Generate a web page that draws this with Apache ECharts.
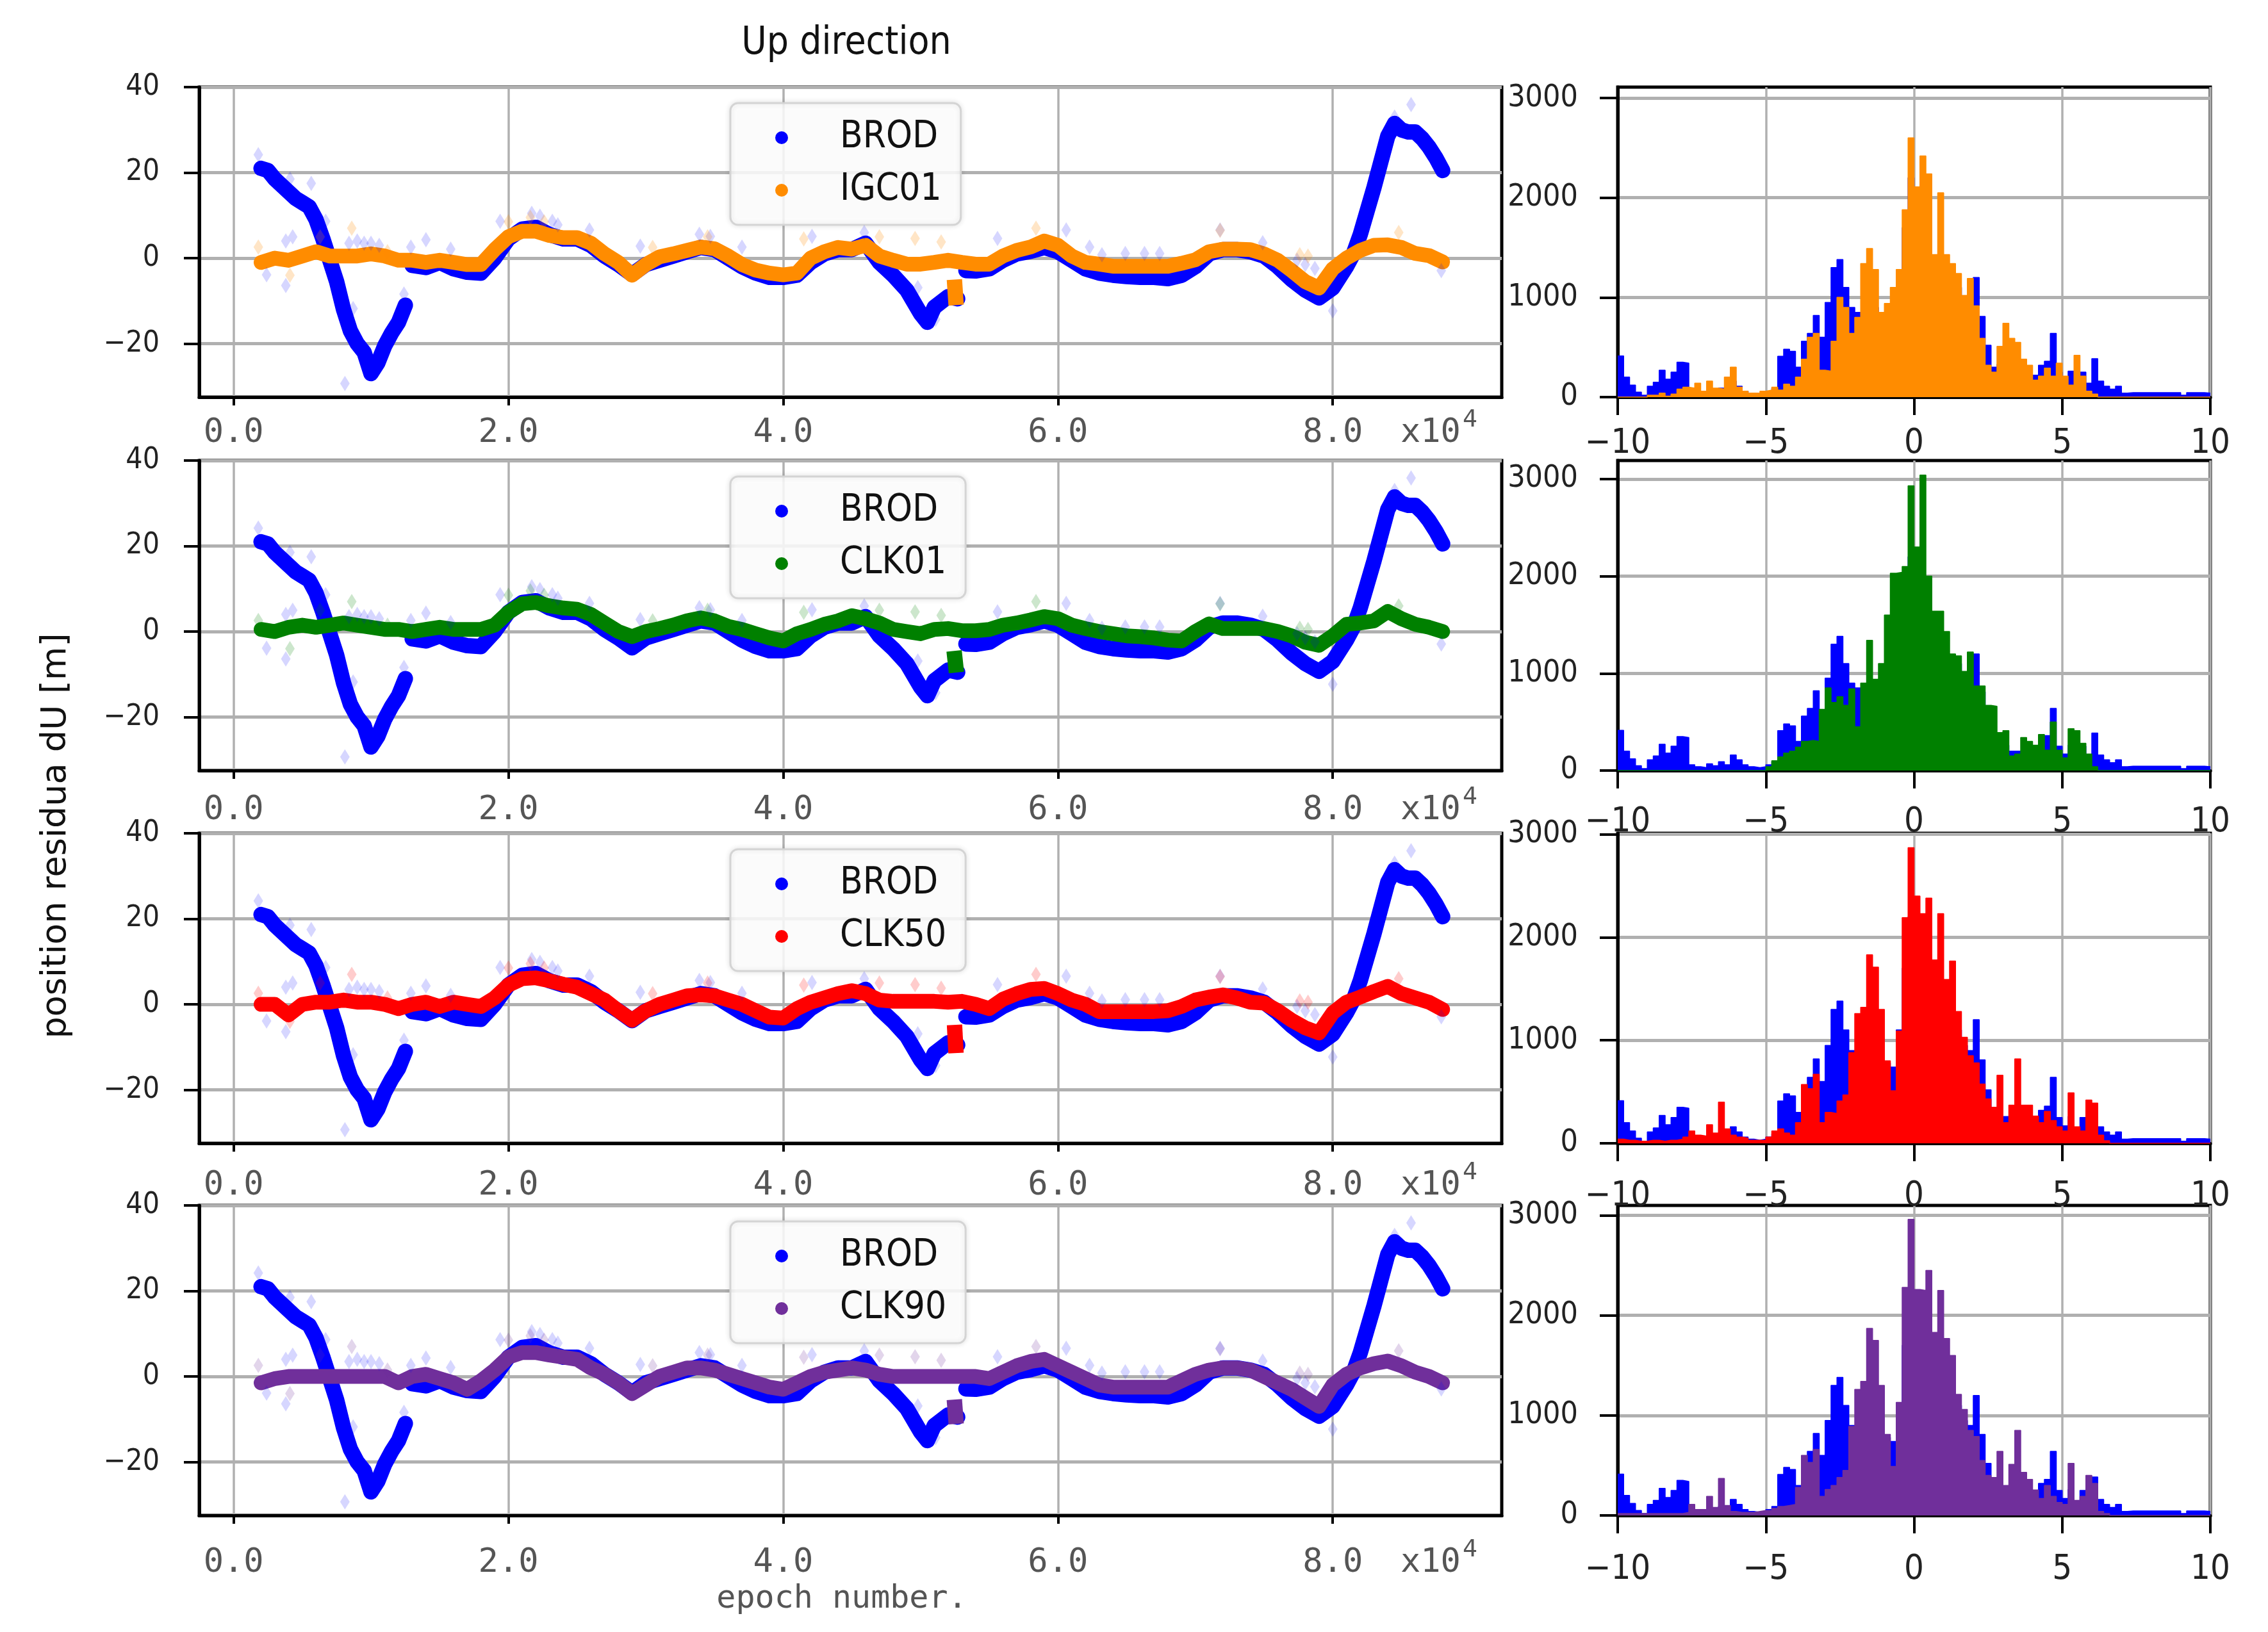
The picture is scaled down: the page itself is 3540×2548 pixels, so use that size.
<!DOCTYPE html>
<html>
<head>
<meta charset="utf-8">
<title>Up direction</title>
<script src="https://cdn.jsdelivr.net/npm/echarts@6/dist/echarts.min.js"></script>
<style>
html, body { margin: 0; padding: 0; background: #fff; }
#main { width: 3540px; height: 2548px; }
</style>
</head>
<body>
<div id="main"></div>
<script>
// BROD residuals (shared by all four rows), null = gap between segments
var brodEpochs = [
  2000, 2500, 3000, 3500, 4000, 4500, 5000, 5500, 6000, 6500,
  7000, 7500, 8000, 8500, 9000, 9500, 10000, 10500, 11000, 11500,
  12000, 12500, 12800, 13000, 14000, 15000, 16000, 17000, 18000, 19000,
  20000, 21000, 22000, 23000, 24000, 25000, 26000, 27000, 28000, 29000,
  30000, 31000, 32000, 33000, 34000, 35000, 36000, 37000, 38000, 39000,
  40000, 41000, 42000, 43000, 44000, 45000, 46000, 47000, 48000, 49000,
  50000, 50500, 51000, 52000, 52700, 53000, 53300, 54000, 55000, 56000,
  57000, 58000, 59000, 60000, 61000, 62000, 63000, 64000, 65000, 66000,
  67000, 68000, 69000, 70000, 71000, 72000, 73000, 74000, 75000, 76000,
  77000, 78000, 79000, 80000, 81000, 81500, 82000, 82500, 83000, 83500,
  84000, 84500, 85000, 85500, 86000, 86500, 87000, 87500, 88000
];
var brodValues = [
  21, 20.5, 18.5, 17, 15.5, 14, 13, 12, 9, 4.5,
  -0.5, -5.5, -12, -17, -20, -22, -27, -24.5, -20.5, -17.5,
  -15, -11, null, -1.7, -2.2, -1, -2.5, -3.3, -3.5, 0,
  4.5, 6.8, 7.2, 5.5, 4.5, 4.5, 3, 0.5, -1.5, -3.8,
  -1.5, -0.5, 0.5, 1.5, 2.5, 2, 0, -2, -3.5, -4.5,
  -4.5, -4, -1, 1, 2, 2, 3.5, -1, -4, -7.5,
  -13, -15, -11.5, -9, -9.5, null, -2.9, -3, -2.5, -0.5,
  1, 1.6, 2.5, 1.5, -0.5, -2.5, -3.5, -4, -4.3, -4.5,
  -4.5, -4.8, -4, -2, 1, 2, 2, 1.5, 0.5, -2,
  -5, -7.5, -9.3, -7, -2, 1, 5.5, 11, 16.5, 22.5,
  28.5, 31.5, 30, 29.5, 29.5, 28, 26, 23.5, 20.5
];

// epochs of the four comparison solutions
var epochs = [
  2000, 3000, 4000, 5000, 6000, 7000, 8000, 9000, 10000, 11000,
  12000, 13000, 14000, 15000, 16000, 17000, 18000, 19000, 20000, 21000,
  22000, 23000, 24000, 25000, 26000, 27000, 28000, 29000, 30000, 31000,
  32000, 33000, 34000, 35000, 36000, 37000, 38000, 39000, 40000, 41000,
  42000, 43000, 44000, 45000, 46000, 47000, 48000, 49000, 50000, 51000,
  52000, 53000, 54000, 55000, 56000, 57000, 58000, 59000, 60000, 61000,
  62000, 63000, 64000, 65000, 66000, 67000, 68000, 69000, 70000, 71000,
  72000, 73000, 74000, 75000, 76000, 77000, 78000, 79000, 80000, 81000,
  82000, 83000, 84000, 85000, 86000, 87000, 88000
];
var igc01 = [
  -1, 0, -0.5, 0.5, 1.5, 0.5, 0.5, 0.5, 1, 0.5,
  -0.5, -0.5, -1, -0.5, -1, -1.5, -1.5, 2, 5, 6.3,
  6.3, 5.3, 4.8, 4.8, 3.5, 1, -1, -4, -1.5, 0.3,
  1, 1.8, 2.6, 2.2, 0.5, -1.5, -2.8, -3.5, -3.9, -3.5,
  0, 1.5, 2.5, 2.1, 3, 0.5, -0.5, -1.4, -1.4, -1,
  -0.5, -1, -1.4, -1.4, 0.5, 1.8, 2.6, 4, 3, 0.5,
  -1, -1.4, -1.9, -1.9, -1.9, -1.9, -1.9, -1.2, -0.4, 1.5,
  2.1, 2.1, 2, 1, -0.5, -2.9, -5.5, -7, -2.5, 0,
  1.8, 3, 3.1, 2.5, 1.1, 0.6, -0.9
];
var clk01 = [
  0.5, 0, 1, 1.5, 1, 1.5, 2, 1.5, 1, 0.5,
  0.5, 0, 0.5, 1, 0.5, 0.5, 0.5, 1.5, 4.5, 6.5,
  6.8, 6, 5.5, 5.2, 4, 2, 0, -1.2, 0, 0.7,
  1.5, 2.5, 3.2, 2.5, 1.2, 0.5, -0.5, -1.5, -2.2, -0.5,
  0.5, 1.7, 2.5, 3.7, 3, 2, 0.5, 0, -0.5, 0.5,
  0.7, 0.2, 0.2, 0.5, 1.5, 2, 2.7, 3.5, 3, 1.5,
  0.7, 0, -0.5, -1, -1.2, -1.5, -2, -2.2, 0, 1.8,
  0.7, 0.7, 0.7, 0.7, 0, -1, -2.5, -3.2, -1, 1.7,
  2, 2.5, 4.7, 3, 1.7, 1, 0
];
var clk50 = [
  0, 0, -2.5, 0, 0.5, 0.5, 1, 0.5, 0.5, 0,
  -1, 0, 0.5, -0.5, 0.5, 0, -0.5, 1.5, 4.5, 6,
  6.2, 5.5, 4.7, 4, 2.5, 1, -1.5, -3.7, -1.5, 0,
  1, 2, 2.2, 2, 1, 0, -1.5, -3, -3.2, -1,
  0.5, 1.5, 2.5, 3.2, 2.5, 1, 0.7, 0.7, 0.7, 0.7,
  0.5, 0.7, 0, -1, 1.2, 2.5, 3.5, 3.7, 2.5, 1,
  0, -1.7, -1.7, -1.7, -1.7, -1.7, -1.5, -0.5, 1, 1.7,
  2.2, 1.5, 0.5, 0.3, -1.5, -3.7, -5.5, -6.7, -2, 0.5,
  1.7, 3, 4.2, 2.5, 1.5, 0.5, -1.2
];
var clk90 = [
  -1.5, -0.5, 0, 0, 0, 0, 0, 0, 0, 0,
  -1.5, 0, 0.5, -0.5, -1.5, -3, -1, 1.5, 4.5, 5.6,
  5.6, 5, 4.5, 4, 2, 0.5, -1.5, -4, -2, 0,
  1, 2, 2, 1.5, 0.5, -0.5, -1.5, -2.5, -3, -1.5,
  0, 1, 1.5, 2, 1.5, 0.5, 0, 0, 0, 0,
  0, 0, 0, -0.5, 1, 2.5, 3.5, 4, 2.5, 1,
  -0.5, -2, -2.5, -2.5, -2.5, -2.5, -2.5, -1, 0.5, 1.5,
  2, 2, 1.5, 0, -1.5, -3, -5, -7, -2, 0.5,
  2, 3, 3.6, 2.5, 1, 0, -1.5
];

// short offset cluster near epoch 5.25e4
var blockEpochs = [52500, 52550];
var igc01Block = [-6.8, -9.2];
var clk01Block = [-6.3, -7.8];
var clk50Block = [-6.6, -9.6];
var clk90Block = [-7.2, -9.3];

// faint outlier markers
var brodOutlierEpochs = [1800, 2400, 3800, 4100, 5650, 6700, 8100, 8700, 3800, 4300, 8400, 9000, 9500, 10000, 10600,
  12400, 12900, 14000, 15800, 19400, 21700, 22300, 23200, 23600, 25900, 29600, 33900, 34700, 37000, 42100, 45900,
  49800, 51100, 55600, 60600, 62300, 63200, 64900, 66300, 67400, 71800, 74900, 77400, 78000, 78700, 80000, 84500, 85700, 87900];
var brodOutlierValues = [24.2, -3.9, -6.4, 18.5, 17.5, 8.6, -29.3, -11.8, 4, 5, 3.5, 4, 3.5, 3.5, 3,
  -8.4, 2.6, 4.3, 2.1, 8.6, 10.5, 9.8, 8.6, 7.8, 6.6, 2.8, 5.6, 5.1, 2.6, 5.1, 6,
  -6.9, -14.3, 4.6, 6.6, 2.6, 0.8, 1.1, 1.1, 1.1, 6.6, 3.6, -0.5, -1.5, -2.4, -12.3, 33, 35.9, -2.9];
var otherOutlierEpochs = [1800, 4100, 6300, 8600, 11200, 20000, 21600, 22600, 30500, 34500, 41500, 47000, 49600, 51500, 58400, 71800, 77600, 78200, 84800];
var otherOutlierValues = [2.6, -4, 5, 7, 1.5, 8.5, 9.5, 8.5, 2.5, 5, 4.5, 5, 4.6, 3.8, 7, 6.5, 0.8, 0.5, 6];

// histogram counts, bins of 0.2 m from -10 to 10
var binStart = -10, binWidth = 0.2;
var brodHist = [
  413, 200, 120, 50, 20, 110, 150, 270, 180, 250,
  350, 340, 60, 40, 30, 70, 50, 90, 60, 160,
  110, 60, 40, 30, 40, 60, 90, 410, 480, 460,
  300, 560, 640, 820, 600, 950, 1300, 1380, 1100, 900,
  850, 800, 850, 900, 800, 780, 740, 1100, 1700, 2200,
  1900, 1900, 1700, 1300, 1300, 1200, 1150, 1100, 950, 900,
  1200, 810, 520, 300, 330, 260, 200, 200, 210, 190,
  220, 320, 360, 640, 250, 170, 260, 120, 250, 140,
  385, 160, 110, 80, 110, 40, 45, 45, 45, 45,
  45, 45, 45, 45, 45, 20, 45, 45, 45, 40
];
var igc01Hist = [
  0, 0, 0, 0, 0, 20, 20, 40, 10, 30,
  80, 100, 90, 140, 60, 160, 90, 80, 200, 300,
  100, 60, 40, 40, 60, 70, 100, 70, 130, 110,
  200, 380, 600, 640, 270, 260, 560, 1000, 900, 640,
  800, 1340, 1490, 1280, 850, 940, 1100, 1280, 1880, 2600,
  2110, 2420, 2240, 1430, 2050, 1430, 1340, 1240, 1020, 1190,
  915, 590, 320, 250, 510, 740, 590, 550, 380, 320,
  170, 210, 290, 210, 340, 210, 120, 420, 210, 60,
  30, 0, 0, 0, 0, 0, 0, 0, 0, 0,
  0, 0, 0, 0, 0, 0, 0, 0, 0, 0
];
var clk01Hist = [
  0, 0, 0, 0, 0, 0, 0, 0, 0, 0,
  0, 0, 0, 0, 0, 0, 0, 0, 0, 0,
  0, 0, 0, 0, 0, 40, 100, 140, 180, 200,
  240, 300, 310, 300, 630, 850, 700, 760, 670, 840,
  450, 900, 1340, 940, 1100, 1600, 2030, 2040, 2100, 2930,
  2300, 3040, 2000, 1640, 1640, 1430, 1200, 1180, 1020, 1220,
  870, 870, 670, 660, 390, 410, 150, 170, 340, 300,
  260, 370, 210, 500, 210, 130, 430, 410, 280, 170,
  40, 0, 0, 0, 0, 0, 0, 0, 0, 0,
  0, 0, 0, 0, 0, 0, 0, 0, 0, 0
];
var clk50Hist = [
  40, 30, 30, 20, 20, 30, 30, 20, 30, 30,
  40, 60, 120, 80, 70, 180, 100, 400, 140, 80,
  60, 50, 30, 30, 30, 60, 120, 140, 100, 80,
  200, 570, 530, 670, 200, 300, 290, 410, 470, 880,
  1260, 1320, 1830, 1710, 1300, 800, 510, 1090, 2190, 2870,
  2400, 2230, 2380, 1780, 2230, 1590, 1770, 1280, 1030, 850,
  780, 575, 430, 350, 660, 200, 370, 820, 370, 370,
  265, 200, 310, 220, 160, 120, 490, 160, 120, 420,
  390, 80, 25, 0, 0, 0, 0, 0, 0, 0,
  0, 0, 0, 0, 0, 0, 0, 0, 0, 0
];
var clk90Hist = [
  20, 20, 20, 20, 20, 20, 20, 20, 20, 20,
  20, 30, 110, 60, 60, 190, 80, 370, 100, 40,
  30, 30, 30, 40, 50, 50, 70, 90, 100, 110,
  280, 600, 530, 660, 190, 260, 300, 380, 450, 890,
  1260, 1340, 1870, 1750, 1300, 810, 490, 1130, 2280, 2960,
  2260, 2250, 2450, 1830, 2250, 1770, 1600, 1210, 1060, 850,
  790, 550, 400, 380, 640, 300, 510, 850, 430, 360,
  255, 170, 300, 190, 130, 110, 520, 150, 190, 400,
  320, 40, 20, 0, 0, 0, 0, 0, 0, 0,
  0, 0, 0, 0, 0, 0, 0, 0, 0, 0
];

var panelNames = ['IGC01', 'CLK01', 'CLK50', 'CLK90'];
var panelValues = [igc01, clk01, clk50, clk90];
var panelBlocks = [igc01Block, clk01Block, clk50Block, clk90Block];
var panelHists = [igc01Hist, clk01Hist, clk50Hist, clk90Hist];
var histMax = [3110, 3190, 3010, 3100];

var xTicks = [0, 20000, 40000, 60000, 80000];
var yTicks = [-20, 0, 20, 40];
var countTicks = [0, 1000, 2000, 3000];

// layout / style
var panelColors = ['#ff8c00', '#008000', '#ff0000', '#702f9b'];
var panelFaint = ['rgba(255,140,0,0.28)', 'rgba(0,128,0,0.25)', 'rgba(255,0,0,0.25)', 'rgba(112,47,155,0.25)'];
var BLUE = '#0000ff';
var panelTops = [136, 719, 1301, 1882];
var panelH = 484;
var xLabelMargin = [30, 36, 40, 48];
var histLabelMargin = [46, 54, 56, 58];
var SANS = "'DejaVu Sans Condensed', 'Liberation Sans Narrow', 'DejaVu Sans', sans-serif";
var MONO = "'DejaVu Sans Mono', 'Liberation Mono', monospace";

function pairs(xs, ys) {
  var d = [];
  for (var i = 0; i < xs.length; i++) {
    d.push([xs[i], ys[i] === null ? '-' : ys[i]]);
  }
  return d;
}

function histData(counts) {
  var d = [];
  for (var i = 0; i < counts.length; i++) {
    d.push([binStart + i * binWidth, counts[i]]);
  }
  d.push([binStart + counts.length * binWidth, counts[counts.length - 1]]);
  return d;
}

function minusFmt(v) {
  return v < 0 ? '\u2212' + Math.abs(v) : String(v);
}

function buildOption() {
  var grids = [], xAxes = [], yAxes = [], series = [], legends = [], graphics = [];

  for (var k = 0; k < 4; k++) {
    grids.push({ left: 311, top: panelTops[k], width: 2033, height: panelH, show: true,
      borderColor: '#000', borderWidth: 5, backgroundColor: '#fff' });
  }
  for (var k = 0; k < 4; k++) {
    grids.push({ left: 2525, top: panelTops[k], width: 925, height: panelH, show: true,
      borderColor: '#000', borderWidth: 5, backgroundColor: '#fff' });
  }

  for (var k = 0; k < 4; k++) {
    xAxes.push({
      type: 'value', gridIndex: k, min: -2500, max: 92300,
      axisLine: { show: true, onZero: false, lineStyle: { color: '#000', width: 5 } },
      axisTick: { show: true, length: 13, customValues: xTicks, lineStyle: { color: '#000', width: 4 } },
      axisLabel: { customValues: xTicks, margin: xLabelMargin[k], fontSize: 52, fontFamily: MONO, color: '#555',
        formatter: function (v) { return (v / 10000).toFixed(1); } },
      splitLine: { show: true, lineStyle: { color: '#b0b0b0', width: 3.5 } }
    });
    yAxes.push({
      type: 'value', gridIndex: k, min: -32.5, max: 40,
      axisLine: { show: true, onZero: false, lineStyle: { color: '#000', width: 5 } },
      axisTick: { show: true, length: 24, customValues: yTicks, lineStyle: { color: '#000', width: 4 } },
      axisLabel: { customValues: yTicks, margin: 62, fontSize: 46, fontFamily: SANS, color: '#222', formatter: minusFmt },
      splitLine: { show: true, lineStyle: { color: '#b0b0b0', width: 5 } }
    });
  }
  for (var k = 0; k < 4; k++) {
    xAxes.push({
      type: 'value', gridIndex: 4 + k, min: -10, max: 10, interval: 5,
      axisLine: { show: true, onZero: false, lineStyle: { color: '#000', width: 5 } },
      axisTick: { show: true, length: 28, lineStyle: { color: '#000', width: 4 } },
      axisLabel: { margin: histLabelMargin[k], fontSize: 54, fontFamily: SANS, color: '#222', formatter: minusFmt },
      splitLine: { show: true, lineStyle: { color: '#b0b0b0', width: 3.5 } }
    });
    yAxes.push({
      type: 'value', gridIndex: 4 + k, min: 0, max: histMax[k],
      axisLine: { show: true, onZero: false, lineStyle: { color: '#000', width: 5 } },
      axisTick: { show: true, length: 28, customValues: countTicks, lineStyle: { color: '#000', width: 4 } },
      axisLabel: { customValues: countTicks, margin: 62, fontSize: 48, fontFamily: SANS, color: '#222',
        formatter: function (v) { return String(v); } },
      splitLine: { show: true, lineStyle: { color: '#b0b0b0', width: 5 } }
    });
  }

  for (var k = 0; k < 4; k++) {
    var col = panelColors[k];
    series.push({
      type: 'line', name: 'BROD', xAxisIndex: k, yAxisIndex: k, data: pairs(brodEpochs, brodValues),
      showSymbol: false, symbol: 'circle', silent: true, z: 2,
      itemStyle: { color: BLUE },
      lineStyle: { color: BLUE, width: 24, cap: 'round', join: 'round' }
    });
    series.push({
      type: 'line', name: panelNames[k], xAxisIndex: k, yAxisIndex: k, data: pairs(epochs, panelValues[k]),
      showSymbol: false, symbol: 'circle', silent: true, z: 3,
      itemStyle: { color: col },
      lineStyle: { color: col, width: 23, cap: 'round', join: 'round' }
    });
    series.push({
      type: 'line', name: panelNames[k] + ' cluster', xAxisIndex: k, yAxisIndex: k, data: pairs(blockEpochs, panelBlocks[k]),
      showSymbol: false, silent: true, z: 3,
      lineStyle: { color: col, width: 24, cap: 'square' }
    });
    series.push({
      type: 'scatter', name: 'BROD outliers', xAxisIndex: k, yAxisIndex: k, data: pairs(brodOutlierEpochs, brodOutlierValues),
      symbol: 'diamond', symbolSize: [15, 24], silent: true, z: 4,
      itemStyle: { color: 'rgba(0,0,255,0.2)' }
    });
    series.push({
      type: 'scatter', name: panelNames[k] + ' outliers', xAxisIndex: k, yAxisIndex: k, data: pairs(otherOutlierEpochs, otherOutlierValues),
      symbol: 'diamond', symbolSize: [15, 24], silent: true, z: 4,
      itemStyle: { color: panelFaint[k] }
    });

    series.push({
      type: 'line', name: 'BROD hist', xAxisIndex: 4 + k, yAxisIndex: 4 + k, data: histData(brodHist),
      step: 'end', symbol: 'none', silent: true, z: 2,
      lineStyle: { color: BLUE, width: 1.5 },
      areaStyle: { color: BLUE, opacity: 1 }
    });
    series.push({
      type: 'line', name: panelNames[k] + ' hist', xAxisIndex: 4 + k, yAxisIndex: 4 + k, data: histData(panelHists[k]),
      step: 'end', symbol: 'none', silent: true, z: 3,
      lineStyle: { color: col, width: 1.5 },
      areaStyle: { color: col, opacity: 1 }
    });

    legends.push({
      left: 1140, top: panelTops[k] + 25, orient: 'vertical',
      data: [{ name: 'BROD', icon: 'circle' }, { name: panelNames[k], icon: 'circle' }],
      itemWidth: 20, itemHeight: 20, itemGap: 22,
      padding: [24, 30, 24, 70],
      backgroundColor: 'rgba(255,255,255,0.85)', borderColor: '#d4d4d4', borderWidth: 3, borderRadius: 12,
      shadowColor: 'rgba(0,0,0,0.12)', shadowBlur: 8,
      selectedMode: false,
      textStyle: { fontSize: 58, fontFamily: SANS, color: '#111', lineHeight: 60, padding: [0, 0, 0, 76] }
    });

    var ly = panelTops[k] + panelH + xLabelMargin[k] + 26;
    graphics.push({ type: 'text', x: 2186, y: ly, z: 10,
      style: { text: 'x10', font: '52px ' + MONO, fill: '#555', align: 'left', verticalAlign: 'middle' } });
    graphics.push({ type: 'text', x: 2283, y: ly - 20, z: 10,
      style: { text: '4', font: '38px ' + MONO, fill: '#555', align: 'left', verticalAlign: 'middle' } });
  }

  graphics.push({ type: 'text', x: 1321, y: 68, z: 10,
    style: { text: 'Up direction', font: '60px ' + SANS, fill: '#111', align: 'center', verticalAlign: 'middle' } });
  graphics.push({ type: 'text', x: 88, y: 1305, rotation: Math.PI / 2, z: 10,
    style: { text: 'position residua dU [m]', font: '54px DejaVu Sans, sans-serif', fill: '#111', align: 'center', verticalAlign: 'middle' } });
  graphics.push({ type: 'text', x: 1314, y: 2497, z: 10,
    style: { text: 'epoch number.', font: '50px ' + MONO, fill: '#555', align: 'center', verticalAlign: 'middle' } });

  return {
    animation: false,
    backgroundColor: '#fff',
    grid: grids,
    xAxis: xAxes,
    yAxis: yAxes,
    legend: legends,
    series: series,
    graphic: graphics
  };
}

var myChart = echarts.init(document.getElementById('main'));
myChart.setOption(buildOption());
</script>
</body>
</html>
